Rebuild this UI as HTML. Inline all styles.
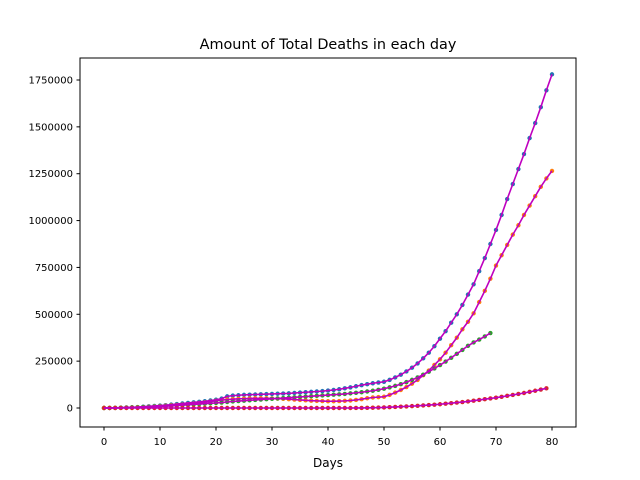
<!DOCTYPE html>
<html><head><meta charset="utf-8"><style>
body{margin:0;background:#fff;}
svg{display:block;font-family:"DejaVu Sans","Liberation Sans",sans-serif;}
</style></head><body>
<svg id="chart" width="640" height="480" viewBox="0 0 640 480">
<rect width="640" height="480" fill="#fff"/>
<text x="328" y="49" font-size="14.4" text-anchor="middle">Amount of Total Deaths in each day</text>
<text x="328" y="467" font-size="12" text-anchor="middle">Days</text>
<g id="ticks"></g>
<g id="dots"></g>
<g id="lines"></g>
<rect x="80" y="58" width="496" height="369" fill="none" stroke="#000" stroke-width="1"/>
</svg>
<script>
const xTicks=[0,10,20,30,40,50,60,70,80];
const yTicks=[0,250000,500000,750000,1000000,1250000,1500000,1750000];
const seriesBlue=[0,500,1000,2000,3000,4000,5000,7000,9000,11000,13000,15000,18000,21000,24000,27000,30000,33000,36000,40000,44000,50000,62000,66000,68000,70000,71000,72000,73000,74000,75000,76000,77000,78000,80000,82000,84000,86000,88000,90000,93000,96000,100000,105000,110000,116000,122000,127000,132000,136000,140000,150000,163000,178000,195000,215000,238000,265000,295000,330000,370000,410000,455000,500000,550000,605000,660000,730000,800000,875000,950000,1030000,1115000,1195000,1275000,1355000,1440000,1520000,1605000,1695000,1780000];
const seriesOrange=[0,300,700,1200,2000,3000,4000,5000,6500,8000,10000,12000,14000,16000,18500,21000,24000,27000,30000,34000,38000,42000,45000,47000,49000,50000,51000,52000,52000,52000,51000,50000,49000,47000,45000,43000,41000,39000,38000,37000,36000,36000,37000,38000,40000,43000,47000,52000,56000,58000,60000,70000,82000,96000,112000,130000,150000,175000,200000,230000,260000,295000,335000,375000,420000,460000,505000,565000,625000,690000,760000,815000,870000,925000,975000,1030000,1080000,1130000,1180000,1225000,1265000];
const seriesGreen=[0,200,500,1000,1500,2000,3000,4000,5000,6500,8000,9500,11000,13000,15000,17000,19000,21000,23000,25000,27000,29000,32000,35000,37000,39000,41000,43000,45000,47000,49000,51000,53000,55000,57000,59000,61000,63000,65000,67000,69000,71000,73000,75000,78000,81000,84000,88000,92000,97000,103000,110000,118000,127000,138000,150000,163000,178000,194000,211000,229000,248000,268000,289000,310000,332000,350000,365000,382000,400000];
const seriesRed=[0,0,0,0,0,0,0,0,0,0,0,0,0,0,0,0,0,0,0,0,0,0,0,0,0,0,0,0,0,0,0,0,0,0,0,0,0,0,0,0,0,0,0,0,0,200,500,900,1400,2100,3000,4200,5600,7200,8600,10000,11800,13800,15800,17800,20000,22800,25800,28800,31800,35000,38800,42800,46800,50800,55000,59800,64800,69800,74800,80000,86000,92000,98500,105000];
const NS='http://www.w3.org/2000/svg';
const X=d=>104+d*5.6;
const Y=v=>408-v*328/1750000;
const tg=document.getElementById('ticks');
function mk(tag,attrs,parent){const e=document.createElementNS(NS,tag);for(const k in attrs)e.setAttribute(k,attrs[k]);parent.appendChild(e);return e;}
xTicks.forEach(t=>{
  const l=mk('line',{x1:X(t),x2:X(t),y1:427,y2:430.5,stroke:'#000'},tg);
  
  
  const tx=mk('text',{x:X(t),y:445,'font-size':10,'text-anchor':'middle'},tg);tx.textContent=t;
  
  
});
yTicks.forEach(t=>{
  const l=mk('line',{x1:76.5,x2:80,y1:Y(t),y2:Y(t),stroke:'#000'},tg);
  
  
  const tx=mk('text',{x:73,y:Y(t)+3.5,'font-size':10,'text-anchor':'end'},tg);tx.textContent=t;
  
  
});
const dg=document.getElementById('dots'),lg=document.getElementById('lines');
const all=[[seriesBlue,'#1f77b4','blue'],[seriesOrange,'#ff7f0e','orange'],[seriesGreen,'#2ca02c','green'],[seriesRed,'#d62728','red']];
all.forEach(([s,c,n])=>{
  s.forEach((v,i)=>{
    const d=mk('circle',{cx:X(i),cy:Y(v),r:2.2,fill:c},dg);
    
    
  });
});
all.forEach(([s,c,n])=>{
  const p=mk('polyline',{points:s.map((v,i)=>X(i)+','+Y(v)).join(' '),fill:'none',stroke:'#bf00bf','stroke-width':1.6,'stroke-linejoin':'round'},lg);
  
  
});
</script>
</body></html>
